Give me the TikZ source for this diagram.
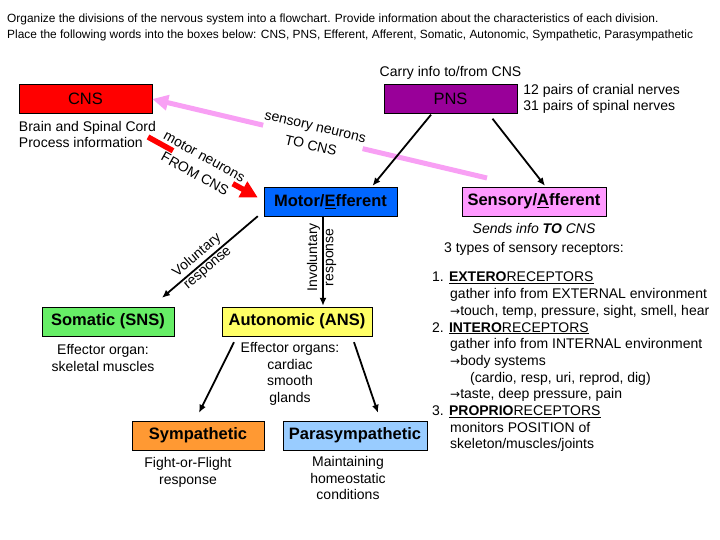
\documentclass[tikz,border=0pt]{standalone}
\usepackage{fontspec}
\setmainfont{Liberation Sans}
\newfontfamily\arrowfont{DejaVu Sans}
\newcommand{\toarrow}{{\arrowfont\fontsize{12}{14}\selectfont →}}
\usetikzlibrary{arrows,arrows.meta,positioning}
\definecolor{cnsred}{HTML}{FF0000}
\definecolor{pnspurple}{HTML}{990099}
\definecolor{motorblue}{HTML}{0066FF}
\definecolor{senspink}{HTML}{FF99FF}
\definecolor{somgreen}{HTML}{66EE66}
\definecolor{autoyellow}{HTML}{FFFF66}
\definecolor{symorange}{HTML}{FF9933}
\definecolor{parablue}{HTML}{99CCFF}
\definecolor{neuronpink}{HTML}{F8A0F4}

\begin{document}
\begin{tikzpicture}[x=1pt,y=-1pt,
    box/.style={draw=black, minimum height=29pt, inner sep=0pt, font=\fontsize{16.5}{19}\selectfont\bfseries},
    txt/.style={font=\fontsize{14}{16.7}\selectfont, align=center, inner sep=0pt},
    gap/.style={fill=white, inner sep=0pt, minimum height=9pt},
    arr/.style={line width=1.8pt, -{Latex[length=8pt,width=7pt]}}]
    \useasboundingbox (0,0) rectangle (720,540);
    \node[anchor=west, align=left, inner sep=0pt, font=\fontsize{11.9}{16}\selectfont] (task) at (7,27.5)
        {Organize the divisions of the nervous system into a flowchart. Provide information about the characteristics of each division.\\
         Place the following words into the boxes below: CNS, PNS, Efferent, Afferent, Somatic, Autonomic, Sympathetic, Parasympathetic};
    % top level
    \node[box, fill=cnsred, minimum width=133pt, font=\fontsize{16.5}{19}\selectfont] (CNS) at (85.5,99) {CNS};
    \node[box, fill=pnspurple, minimum width=133pt, font=\fontsize{16.5}{19}\selectfont] (PNS) at (450.5,99) {PNS};
    \node[txt, above=5pt of PNS] (carry) {Carry info to/from CNS};
    \node[txt, align=left, right=6pt of PNS] (nerves) {12 pairs of cranial nerves\\31 pairs of spinal nerves};
    \node[txt, align=left, anchor=north west] (brain) at ([yshift=-7pt]CNS.south west) {Brain and Spinal Cord\\Process information};
    % PNS divisions
    \node[box, fill=motorblue, minimum width=133pt] (Motor) at (330.5,201.5) {Motor/\underline{E}fferent};
    \node[box, fill=senspink, minimum width=144pt] (Sensory) at (534,201.5) {Sensory/\underline{A}fferent};
    \node[box, fill=somgreen, minimum width=132pt] (Somatic) at (108,321.5) {Somatic (SNS)};
    \node[box, fill=autoyellow, minimum width=150pt] (Auto) at (297,321.5) {Autonomic (ANS)};
    \node[box, fill=symorange, minimum width=132pt] (Symp) at (198,435.5) {Sympathetic};
    \node[box, fill=parablue, minimum width=144pt] (Para) at (355,435.5) {Parasympathetic};
    % notes under the boxes
    \node[txt, anchor=north] (somnote) at ([xshift=-5pt,yshift=-8pt]Somatic.south) {Effector organ:\\skeletal muscles};
    \node[txt, anchor=north] (autonote) at ([xshift=-7pt,yshift=-6pt]Auto.south) {Effector organs:\\cardiac\\smooth\\glands};
    \node[txt, anchor=north] (symnote) at ([xshift=-10pt,yshift=-7pt]Symp.south) {Fight-or-Flight\\response};
    \node[txt, anchor=north] (paranote) at ([xshift=-7pt,yshift=-6pt]Para.south) {Maintaining\\homeostatic\\conditions};
    \node[txt, anchor=north] (sensnote) at ([yshift=-7pt]Sensory.south) {\itshape Sends info \textbf{TO} CNS\\[2.5pt]3 types of sensory receptors:};
    \node[txt, align=left, anchor=north west] (receptors) at (432,272)
        {1. \underline{\textbf{EXTERO}}\underline{RECEPTORS}\\
         \hspace*{18pt}gather info from EXTERNAL environment\\
         \hspace*{18pt}\toarrow touch, temp, pressure, sight, smell, hear\\
         2. \underline{\textbf{INTERO}}\underline{RECEPTORS}\\
         \hspace*{18pt}gather info from INTERNAL environment\\
         \hspace*{18pt}\toarrow body systems\\
         \hspace*{38pt}(cardio, resp, uri, reprod, dig)\\
         \hspace*{18pt}\toarrow taste, deep pressure, pain\\
         3. \underline{\textbf{PROPRIO}}\underline{RECEPTORS}\\
         \hspace*{18pt}monitors POSITION of\\
         \hspace*{18pt}skeleton/muscles/joints};
    % neuron arrows
    \coordinate (sensTail) at (487,178);
    \coordinate (cnsOut) at (148,137);
    \draw[line width=5pt, neuronpink, -{Triangle[length=16pt,width=15pt]}] (sensTail)
        -- node[gap, sloped, pos=0.52, minimum width=102pt] {}
           node[txt, sloped, pos=0.52, text=black] {sensory neurons\\[3pt]TO CNS} (CNS.east);
    \draw[line width=5.5pt, red, -{Triangle[length=17pt,width=17pt]}] (cnsOut)
        -- node[gap, sloped, pos=0.5, minimum width=68pt] {}
           node[txt, sloped, pos=0.47, text=black] {motor neurons\\[3pt]FROM CNS} ([xshift=-6pt,yshift=4pt]Motor.west);
    % flowchart arrows
    \draw[arr] ([xshift=-19.5pt,yshift=-1pt]PNS.south) -- ([xshift=42pt,yshift=1pt]Motor.north);
    \draw[arr] ([xshift=42pt,yshift=-5pt]PNS.south) -- ([xshift=11pt,yshift=1pt]Sensory.north);
    \draw[arr] ([xshift=-6pt]Motor.south west)
        -- node[txt, sloped, pos=0.57, above, inner sep=2pt] {Voluntary}
           node[txt, sloped, pos=0.57, below, inner sep=2pt] {response}
        ([shift={(54pt,9pt)}]Somatic.north);
    \coordinate (invTop) at ([xshift=-7.5pt]Motor.south);
    \draw[arr] (invTop)
        -- node[txt, rotate=90, pos=0.46, anchor=south, inner sep=2pt] {Involuntary}
           node[txt, rotate=90, pos=0.46, anchor=north, inner sep=2pt] {response}
        ([yshift=1pt]invTop |- Auto.north);
    \draw[arr] ([xshift=-63pt,yshift=-6pt]Auto.south) -- ([xshift=1pt,yshift=8pt]Symp.north);
    \draw[arr] ([xshift=57pt,yshift=-6pt]Auto.south) -- ([xshift=23pt,yshift=8pt]Para.north);
\end{tikzpicture}
\end{document}
